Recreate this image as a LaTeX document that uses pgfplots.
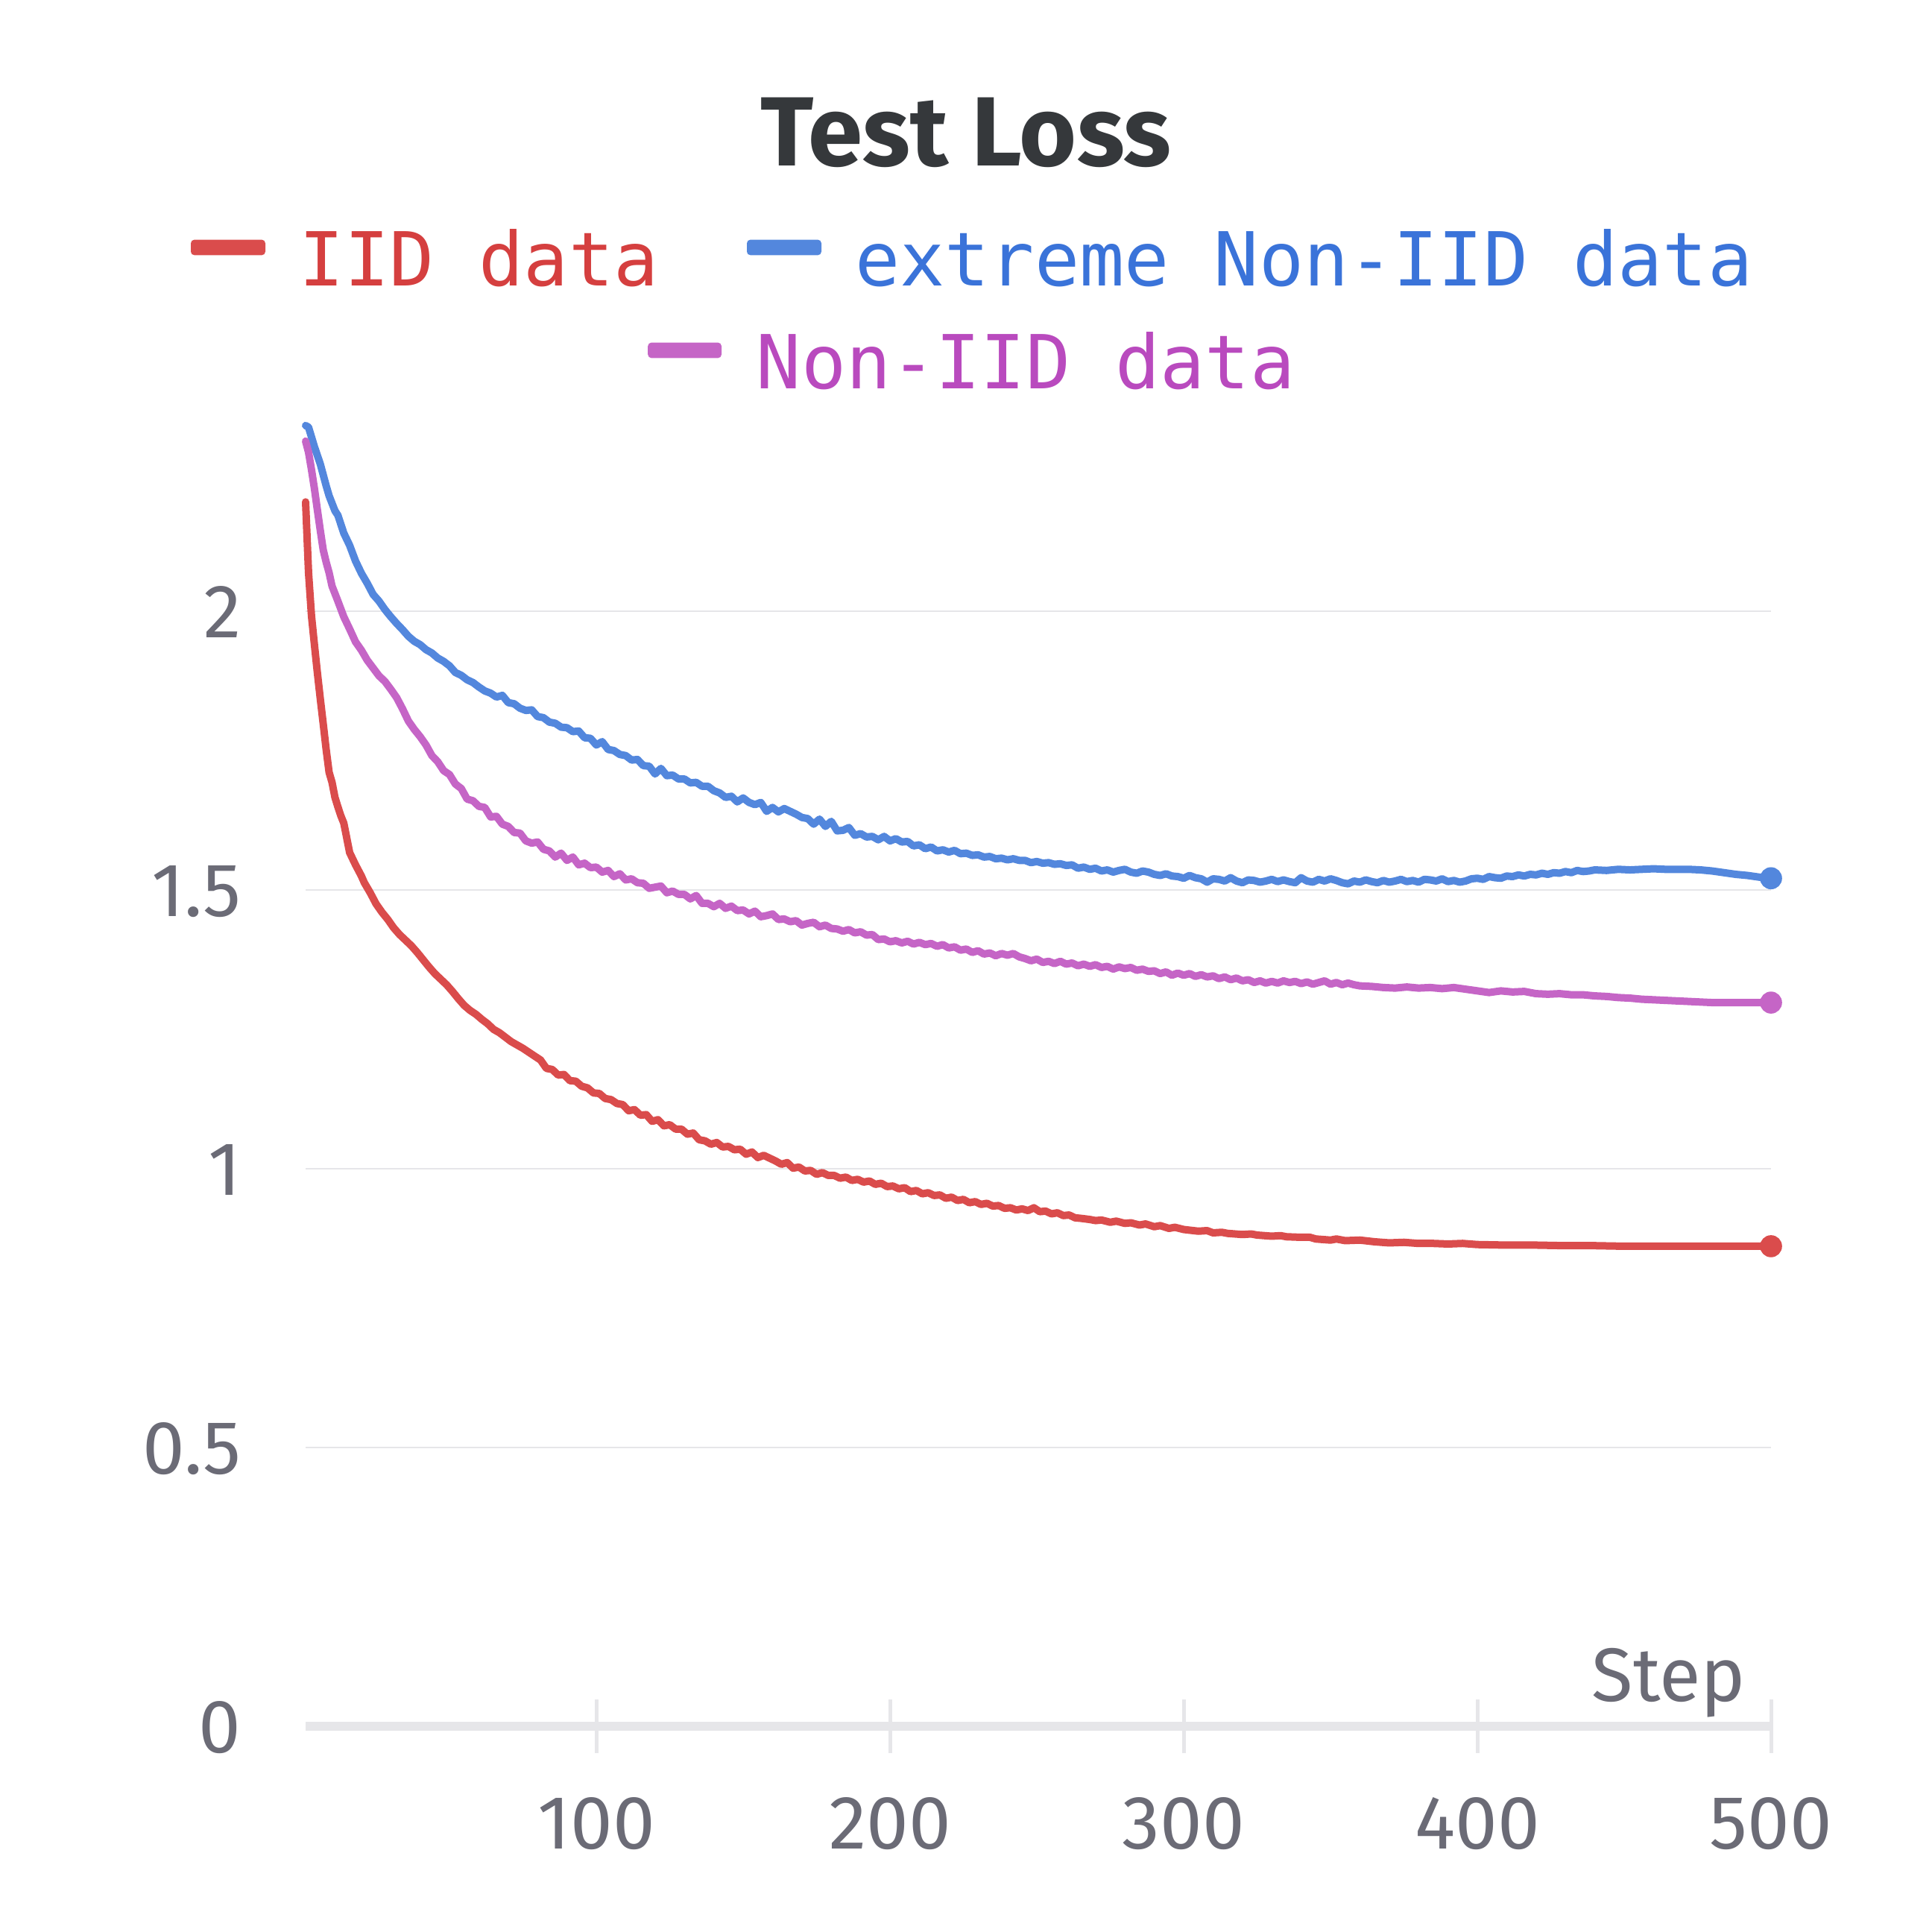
\documentclass[border=0pt]{standalone}
\usepackage{pgfplots}
\pgfplotsset{compat=1.18}
\usepackage{fontspec}
\setmainfont{Fira Sans}
\newfontfamily\monofont{DejaVu Sans Mono}
\newfontfamily\tickfont{Fira Sans}
\definecolor{redl}{HTML}{DA4C4C}
\definecolor{redt}{HTML}{D53F3F}
\definecolor{bluel}{HTML}{5387DD}
\definecolor{bluet}{HTML}{3A73D9}
\definecolor{magl}{HTML}{C565C6}
\definecolor{magt}{HTML}{B94ABE}
\definecolor{gridcol}{HTML}{E6E6E9}
\definecolor{tickcol}{HTML}{6B6B76}
\definecolor{titlecol}{HTML}{35383B}
\begin{document}
\begin{tikzpicture}[x=1pt,y=1pt]
\path[use as bounding box] (0,0) rectangle (648,648);
\node[anchor=base, inner sep=0, text=titlecol, font=\fontsize{33}{40}\selectfont\bfseries] at (324,592.25) {Test Loss};
% legend
\fill[redl, rounded corners=1.2pt] (64,562.4) rectangle (89,567.6);
\node[anchor=base west, inner sep=0, text=redt, font=\monofont\fontsize{25}{30}\selectfont] at (100.25,552) {IID data};
\fill[bluel, rounded corners=1.2pt] (250.5,562.4) rectangle (275.5,567.6);
\node[anchor=base west, inner sep=0, text=bluet, font=\monofont\fontsize{25}{30}\selectfont] at (286.6,552) {extreme Non-IID data};
\fill[magl, rounded corners=1.2pt] (217.3,527.9) rectangle (242.0,533.1);
\node[anchor=base west, inner sep=0, text=magt, font=\monofont\fontsize{25}{30}\selectfont] at (253.5,517.5) {Non-IID data};
\begin{axis}[
  at={(102.5pt,69pt)}, anchor=south west,
  scale only axis, width=491.5pt, height=439.45pt,
  xmin=1, xmax=500, ymin=0, ymax=2.35,
  clip=false,
  axis x line=bottom, axis y line=left,
  x axis line style={-, line width=3pt, gridcol},
  y axis line style={draw=none},
  xtick={100,200,300,400,500},
  ytick={0,0.5,1,1.5,2},
  tick align=center, major tick length=18pt,
  xtick style={line width=1.25pt, gridcol},
  ytick style={draw=none},
  ymajorgrids, grid style={line width=0.7pt, gridcol},
  /pgf/number format/assume math mode=true,
  /pgf/number format/fixed,
  ticklabel style={font=\tickfont\fontsize{25.4}{30}\selectfont, text=tickcol},
  yticklabel style={anchor=base east, inner sep=0pt, xshift=-12.4pt, yshift=-9pt},
  xticklabel style={anchor=base, inner sep=0pt, yshift=-32pt},
  xlabel={Step},
  xlabel style={at={(axis description cs:1,0)}, anchor=base east, inner sep=0pt, xshift=-8.25pt, yshift=8.5pt, font=\tickfont\fontsize{25.4}{30}\selectfont, text=tickcol},
]
\addplot[bluel, line width=2.5pt, line join=round, line cap=round, mark=none] coordinates {
(1,2.333)(2,2.33)(4,2.295)(6,2.264)(8,2.225)(9,2.207)(11,2.18)(12,2.172)(14,2.14)(16,2.118)(18,2.09)(20,2.068)(22,2.05)(24,2.03)(26,2.018)(28,2.003)(30,1.99)(32,1.978)(34,1.967)(36,1.955)(38,1.946)(40,1.94)(42,1.931)(44,1.925)(46,1.916)(48,1.91)(50,1.902)(52,1.89)(54,1.885)(56,1.877)(58,1.872)
(60,1.864)(62,1.857)(64,1.853)(66,1.846)(68,1.849)(70,1.836)(72,1.834)(74,1.826)(76,1.822)(78,1.823)(80,1.811)(82,1.809)(84,1.801)(86,1.799)(88,1.792)(90,1.791)(92,1.784)(94,1.785)(96,1.773)(98,1.772)(100,1.76)(102,1.766)(104,1.752)(106,1.75)(108,1.743)(110,1.741)(112,1.733)(114,1.734)(116,1.723)(118,1.722)(120,1.708)(122,1.718)(124,1.705)(126,1.706)(128,1.699)(130,1.699)(132,1.692)(134,1.693)(136,1.686)(138,1.686)(140,1.678)(142,1.674)(144,1.666)(146,1.668)(148,1.658)(150,1.665)(152,1.657)(154,1.653)(156,1.657)(158,1.641)(160,1.648)(162,1.64)(164,1.646)(166,1.641)(168,1.636)(170,1.63)(172,1.628)(174,1.618)(176,1.627)(178,1.614)(180,1.623)(182,1.606)(184,1.607)(186,1.612)(188,1.598)(190,1.601)(192,1.595)(194,1.596)(196,1.59)(198,1.596)(200,1.588)(202,1.592)(204,1.586)(206,1.587)(208,1.579)(210,1.581)(212,1.574)(214,1.577)(216,1.57)(218,1.572)(220,1.568)(222,1.571)(224,1.565)(226,1.566)(228,1.562)(230,1.563)(232,1.559)(234,1.56)(236,1.556)(238,1.557)(240,1.554)(242,1.556)(244,1.553)(246,1.553)(248,1.549)(250,1.551)(252,1.548)(254,1.549)(256,1.546)(258,1.547)(260,1.544)(262,1.545)(264,1.539)(266,1.541)(268,1.537)(270,1.539)(272,1.534)(274,1.536)(276,1.532)(278,1.535)(280,1.537)(282,1.532)(284,1.53)(286,1.534)(288,1.532)(290,1.528)(292,1.526)(294,1.529)(296,1.525)(298,1.524)(300,1.521)(302,1.526)(304,1.522)(306,1.52)(308,1.514)(310,1.52)(312,1.519)(314,1.516)(316,1.522)(318,1.516)(320,1.513)(322,1.518)(324,1.517)(326,1.514)(328,1.516)(330,1.519)(332,1.515)(334,1.518)(336,1.515)(338,1.513)(340,1.522)(342,1.516)(344,1.514)(346,1.519)(348,1.516)(350,1.52)(352,1.517)(354,1.513)(356,1.511)(358,1.516)(360,1.514)(362,1.518)(364,1.515)(366,1.513)(368,1.517)(370,1.514)(372,1.516)(374,1.519)(376,1.515)(378,1.517)(380,1.514)(382,1.519)(384,1.518)(386,1.516)(388,1.52)(390,1.515)(392,1.517)(394,1.514)(396,1.516)(398,1.52)(400,1.521)(402,1.519)(404,1.524)(406,1.522)(408,1.521)(410,1.525)(412,1.524)(414,1.527)(416,1.525)(418,1.528)(420,1.527)(422,1.53)(424,1.528)(426,1.531)(428,1.53)(430,1.533)(432,1.531)(434,1.535)(436,1.533)(438,1.534)(440,1.536)(444,1.535)(448,1.537)(452,1.536)(456,1.537)(460,1.538)(464,1.537)(468,1.537)(472,1.537)(476,1.536)(480,1.534)(484,1.531)(488,1.528)(492,1.526)(496,1.523)(500,1.521)
};
\addplot[magl, line width=2.5pt, line join=round, line cap=round, mark=none] coordinates {
(1,2.305)(2,2.285)(3,2.254)(4,2.22)(5,2.182)(6,2.145)(7,2.11)(8,2.088)(9,2.069)(10,2.045)(12,2.018)(14,1.99)(16,1.968)(18,1.945)(20,1.93)(22,1.912)(24,1.898)(26,1.884)(28,1.874)(30,1.86)(32,1.845)(34,1.825)(36,1.803)(38,1.788)
(40,1.775)(42,1.76)(44,1.741)(46,1.73)(48,1.714)(50,1.707)(52,1.69)(54,1.682)(56,1.663)(58,1.66)(60,1.65)(62,1.648)(64,1.631)(66,1.632)(68,1.618)(70,1.614)(72,1.603)(74,1.602)(76,1.588)(78,1.584)(80,1.586)(82,1.573)(84,1.57)(86,1.559)(88,1.566)(90,1.553)(92,1.559)(94,1.545)(96,1.548)(98,1.54)(100,1.541)(102,1.532)(104,1.535)(106,1.524)(108,1.529)(110,1.518)(112,1.52)(114,1.513)(116,1.512)(118,1.503)(120,1.505)(122,1.507)(124,1.495)(126,1.498)(128,1.492)(130,1.492)(132,1.484)(134,1.49)(136,1.476)(138,1.476)(140,1.47)(142,1.476)(144,1.467)(146,1.471)(148,1.463)(150,1.464)(152,1.457)(154,1.462)(156,1.452)(158,1.454)(160,1.457)(162,1.447)(164,1.448)(166,1.443)(168,1.445)(170,1.437)(172,1.44)(174,1.442)(176,1.434)(178,1.437)(180,1.431)(182,1.43)(184,1.426)(186,1.429)(188,1.423)(190,1.425)(192,1.419)(194,1.42)(196,1.411)(198,1.412)(200,1.407)(202,1.409)(204,1.405)(206,1.408)(208,1.403)(210,1.406)(212,1.402)(214,1.404)(216,1.399)(218,1.402)(220,1.396)(222,1.398)(224,1.392)(226,1.394)(228,1.388)(230,1.391)(232,1.385)(234,1.387)(236,1.382)(238,1.386)(240,1.383)(242,1.386)(244,1.38)(246,1.377)(248,1.373)(250,1.376)(252,1.37)(254,1.372)(256,1.368)(258,1.372)(260,1.367)(262,1.369)(264,1.364)(266,1.367)(268,1.363)(270,1.366)(272,1.361)(274,1.363)(276,1.358)(278,1.362)(280,1.359)(282,1.361)(284,1.356)(286,1.358)(288,1.354)(290,1.355)(292,1.35)(294,1.353)(296,1.347)(298,1.351)(300,1.347)(302,1.35)(304,1.345)(306,1.348)(308,1.344)(310,1.346)(312,1.341)(314,1.344)(316,1.339)(318,1.342)(320,1.337)(322,1.339)(324,1.334)(326,1.337)(328,1.333)(330,1.336)(332,1.333)(334,1.337)(336,1.334)(338,1.336)(340,1.332)(342,1.335)(344,1.331)(346,1.334)(348,1.337)(350,1.331)(352,1.334)(354,1.33)(356,1.333)(358,1.33)(360,1.328)(364,1.327)(368,1.325)(372,1.324)(376,1.326)(380,1.324)(384,1.325)(388,1.323)(392,1.325)(396,1.322)(400,1.319)(404,1.316)(408,1.319)(412,1.317)(416,1.318)(420,1.314)(424,1.313)(428,1.314)(432,1.312)(436,1.312)(440,1.31)(444,1.309)(448,1.307)(452,1.306)(456,1.304)(460,1.303)(464,1.302)(468,1.301)(472,1.3)(476,1.299)(480,1.298)(500,1.298)
};
\addplot[redl, line width=2.5pt, line join=round, line cap=round, mark=none] coordinates {
(1,2.196)(2,2.069)(3,1.992)(4,1.94)(5,1.89)(6,1.843)(7,1.798)(8,1.752)(9,1.711)(10,1.693)(11,1.666)(12,1.649)(13,1.633)(14,1.62)(16,1.567)(18,1.545)(20,1.525)(21,1.513)(23,1.495)(25,1.475)(27,1.46)(29,1.447)(31,1.432)(33,1.42)(35,1.41)(37,1.4)(39,1.388)(41,1.375)(43,1.362)(45,1.35)(47,1.34)(49,1.33)(51,1.318)(53,1.305)(55,1.293)(57,1.284)(59,1.277)(61,1.268)(63,1.26)(65,1.25)(67,1.244)(69,1.236)(71,1.228)(73,1.222)(75,1.216)(77,1.209)(79,1.202)
(81,1.195)(83,1.18)(85,1.178)(87,1.168)(89,1.169)(91,1.158)(93,1.157)(95,1.148)(97,1.145)(99,1.136)(101,1.135)(103,1.126)(105,1.124)(107,1.117)(109,1.115)(111,1.104)(113,1.106)(115,1.096)(117,1.097)(119,1.085)(121,1.088)(123,1.077)(125,1.079)(127,1.071)(129,1.071)(131,1.062)(133,1.064)(135,1.052)(137,1.05)(139,1.044)(141,1.047)(143,1.039)(145,1.04)(147,1.034)(149,1.035)(151,1.026)(153,1.03)(155,1.02)(157,1.024)(159,1.019)(161,1.014)(163,1.008)(165,1.011)(167,1.001)(169,1.003)(171,0.996)(173,0.997)(175,0.99)(177,0.993)(179,0.988)(181,0.988)(183,0.983)(185,0.985)(187,0.979)(189,0.981)(191,0.976)(193,0.978)(195,0.972)(197,0.974)(199,0.968)(201,0.969)(203,0.964)(205,0.966)(207,0.959)(209,0.961)(211,0.955)(213,0.957)(215,0.952)(217,0.953)(219,0.947)(221,0.949)(223,0.943)(225,0.945)(227,0.939)(229,0.941)(231,0.936)(233,0.938)(235,0.933)(237,0.934)(239,0.929)(241,0.93)(243,0.926)(245,0.928)(247,0.925)(249,0.93)(251,0.923)(253,0.924)(255,0.919)(257,0.921)(259,0.916)(261,0.917)(263,0.912)(265,0.911)(268,0.909)(270,0.907)(272,0.908)(275,0.904)(277,0.906)(280,0.902)(282,0.903)(285,0.899)(287,0.901)(290,0.896)(292,0.898)(295,0.893)(297,0.895)(300,0.891)(305,0.888)(308,0.889)(310,0.885)(313,0.886)(315,0.884)(320,0.882)(323,0.883)(325,0.881)(330,0.879)(333,0.88)(335,0.878)(340,0.877)(343,0.877)(345,0.874)(350,0.872)(352,0.874)(355,0.871)(360,0.872)(365,0.869)(370,0.867)(375,0.868)(380,0.866)(385,0.866)(390,0.865)(395,0.866)(400,0.864)(410,0.863)(420,0.863)(430,0.862)(440,0.862)(450,0.861)(460,0.861)(470,0.861)(480,0.861)(490,0.861)(500,0.861)
};
\addplot[bluel, only marks, mark=*, mark size=3.5pt, mark options={draw=none, fill=bluel}] coordinates {(500,1.521)};
\addplot[magl, only marks, mark=*, mark size=3.5pt, mark options={draw=none, fill=magl}] coordinates {(500,1.298)};
\addplot[redl, only marks, mark=*, mark size=3.5pt, mark options={draw=none, fill=redl}] coordinates {(500,0.861)};
\end{axis}
\end{tikzpicture}
\end{document}
